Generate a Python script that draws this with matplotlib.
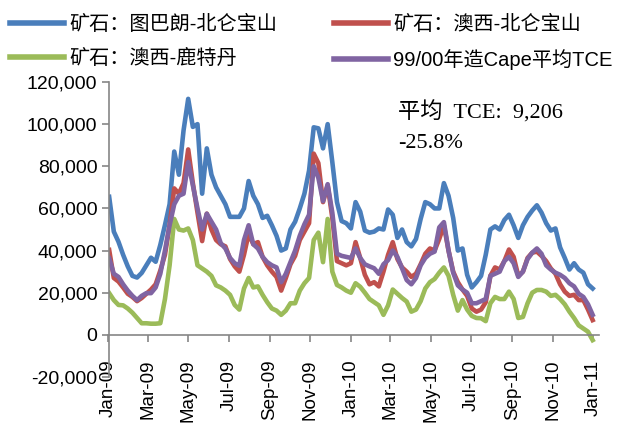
import matplotlib
matplotlib.use("Agg")
import matplotlib.pyplot as plt
import matplotlib.dates as mdates
from matplotlib.ticker import FuncFormatter, MultipleLocator
import pandas as pd

plt.rcParams['font.family'] = ['Liberation Sans', 'Noto Sans CJK SC']

# weekly rates, Jan-09 .. Dec-10
dates = pd.date_range('2009-01-02', periods=105, freq='7D')

tubarao_beilun = [
    65500, 49000, 44200, 38000, 32500, 28000, 27200, 29400, 33000, 36600,
    34700, 42700, 52100, 62000, 87000, 76000, 97000, 112000, 98700, 100000,
    67000, 88500, 76000, 70000, 66000, 62000, 56000, 56000, 56000, 60000,
    73000, 66000, 62000, 55500, 56500, 52000, 47000, 40000, 41000, 50000,
    53700, 60000, 67000, 78000, 98500, 98000, 88500, 100000, 82000, 63000,
    54000, 53000, 50500, 63000, 58500, 49500, 48500, 49000, 50500, 50000,
    59500, 57000, 46000, 50000, 44000, 42000, 45500, 55000, 63000, 62000,
    60000, 60000, 72000, 66000, 55500, 40000, 41000, 28500, 22500, 25000,
    28000, 38000, 50000, 51500, 50000, 54500, 57000, 52000, 46000, 52000,
    56000, 59000, 61500, 58000, 53000, 49500, 50500, 41500, 36500, 31000,
    34000, 31000, 29500, 24000, 22000,
]

wa_beilun = [
    40300, 27000, 25300, 22500, 19500, 18000, 16000, 17500, 19500, 21500,
    24000, 30500, 38000, 52000, 69500, 67000, 72000, 88000, 72000, 58000,
    44500, 57500, 50000, 45000, 43000, 42000, 36000, 32500, 30000, 38000,
    48000, 43000, 44000, 37000, 33000, 30000, 27500, 21000, 27000, 33500,
    37500, 45000, 49000, 53000, 86000, 81500, 63000, 71000, 55500, 35000,
    34000, 33000, 34000, 44000, 36500, 28500, 24000, 25000, 23000, 30000,
    38000, 44000, 36000, 32000, 30000, 27500, 29000, 33500, 38500, 41000,
    40000, 45500, 52000, 40000, 30000, 25000, 21500, 18500, 12500, 11000,
    12000, 15500, 28000, 32000, 31000, 35000, 40500, 37000, 28000, 30000,
    36500, 39000, 39500, 37500, 35000, 31500, 29000, 24000, 20500, 18500,
    19000, 16500, 16500, 12000, 7000,
]

wa_rotterdam = [
    19800, 16500, 14200, 14000, 12500, 10500, 8000, 5500, 5500, 5300,
    5300, 5500, 17000, 33000, 55000, 50000, 49500, 50500, 45000, 33000,
    31500, 30000, 28000, 23500, 22500, 21000, 19000, 14200, 12000, 22000,
    27000, 22500, 23000, 19000, 15500, 12500, 11500, 9500, 11500, 15000,
    15000, 21000, 24500, 27000, 45000, 48500, 34500, 55000, 30000, 23700,
    22500, 21000, 20000, 24500, 22800, 20000, 17000, 15500, 14000, 9500,
    14000, 21500, 19500, 17500, 15800, 11000, 12000, 16000, 22000, 25000,
    26500, 29500, 32000, 28000, 19000, 11500, 16500, 12000, 9000, 8000,
    7900, 6500, 15000, 18000, 17000, 17000, 20500, 17000, 8000, 8500,
    15000, 20000, 21300, 21300, 20500, 18500, 19000, 17000, 14500, 11000,
    8000, 4500, 3000, 1500, -2500,
]

cape_tce = [
    36300, 29000, 27500, 24000, 21000, 18500, 16500, 18500, 19800, 19800,
    22500, 29000, 40000, 52000, 62000, 66000, 67000, 82000, 71000, 60000,
    50000, 57500, 53700, 50000, 43500, 41000, 36500, 34000, 32800, 45000,
    52000, 43000, 41000, 37000, 34500, 33000, 32000, 25000, 29000, 34500,
    40000, 47000, 52500, 57000, 80000, 74500, 63500, 71500, 58000, 38500,
    37500, 37000, 36500, 41000, 36500, 33500, 32500, 31600, 29000, 33500,
    35500, 40000, 37000, 31600, 26000, 24000, 27000, 33000, 36500, 38500,
    39500, 51000, 53500, 40000, 29500, 23500, 21500, 20000, 15000, 15000,
    16000, 17000, 28000, 29000, 30000, 35000, 37000, 34000, 27500, 30000,
    36000, 39000, 41000, 38500, 33000, 31000, 29500, 28500, 27000, 24500,
    23000, 19500, 18000, 14500, 9500,
]

labels = ['矿石：图巴朗-北仑宝山', '矿石：澳西-北仑宝山',
          '矿石：澳西-鹿特丹', '99/00年造Cape平均TCE']
colors = ['#4A7EBB', '#C0504D', '#9BBB59', '#8064A2']

fig = plt.figure(figsize=(6.17, 4.23), dpi=100)
ax = fig.add_axes([108.5 / 617, 1 - 377 / 423, 490.8 / 617, 295 / 423])

lines = []
for vals, lab, col in zip([tubarao_beilun, wa_beilun, wa_rotterdam, cape_tce], labels, colors):
    ln, = ax.plot(dates, vals, color=col, lw=3.3, label=lab, solid_joinstyle='round')
    lines.append(ln)

ax.set_xlim(pd.Timestamp('2009-01-01'), pd.Timestamp('2011-01-10'))
ax.set_ylim(-20000, 120000)
ax.yaxis.set_major_locator(MultipleLocator(20000))
ax.yaxis.set_major_formatter(FuncFormatter(lambda v, p: f'{v:,.0f}'))
ax.xaxis.set_major_locator(mdates.MonthLocator(bymonth=[1, 3, 5, 7, 9, 11]))
ax.xaxis.set_major_formatter(mdates.DateFormatter('%b-%y'))

# x axis crosses at zero
ax.spines['bottom'].set_position(('data', 0))
ax.spines['top'].set_visible(False)
ax.spines['right'].set_visible(False)
for s in ['bottom', 'left']:
    ax.spines[s].set_color('#868686')
    ax.spines[s].set_linewidth(1.2)

ax.tick_params(axis='x', direction='out', length=5, width=1.2, color='#868686',
               labelsize=13.5, pad=13, labelrotation=90)
ax.tick_params(axis='y', direction='out', length=5, width=1.2, color='#868686',
               labelsize=14, pad=3)
for t in ax.get_xticklabels():
    t.set_verticalalignment('top')

leg = fig.legend([lines[0], lines[2], lines[1], lines[3]],
                 [labels[0], labels[2], labels[1], labels[3]],
                 loc='upper left', bbox_to_anchor=(10 / 617, 0.965), ncol=2,
                 frameon=False, fontsize=14.5, handlelength=2.7, handletextpad=0.25,
                 columnspacing=2.8, labelspacing=0.75, borderpad=0, borderaxespad=0)
for h in leg.legend_handles:
    h.set_linewidth(4)

serif = ['Liberation Serif', 'Noto Sans CJK SC']
fig.text(398 / 617, 1 - 119 / 423, '平均  TCE:  9,206', family=serif,
         fontsize=16, va='baseline')
fig.text(398 / 617, 1 - 148 / 423, '-25.8%', family=serif,
         fontsize=16, va='baseline')

fig.savefig('out.png', dpi=100)
